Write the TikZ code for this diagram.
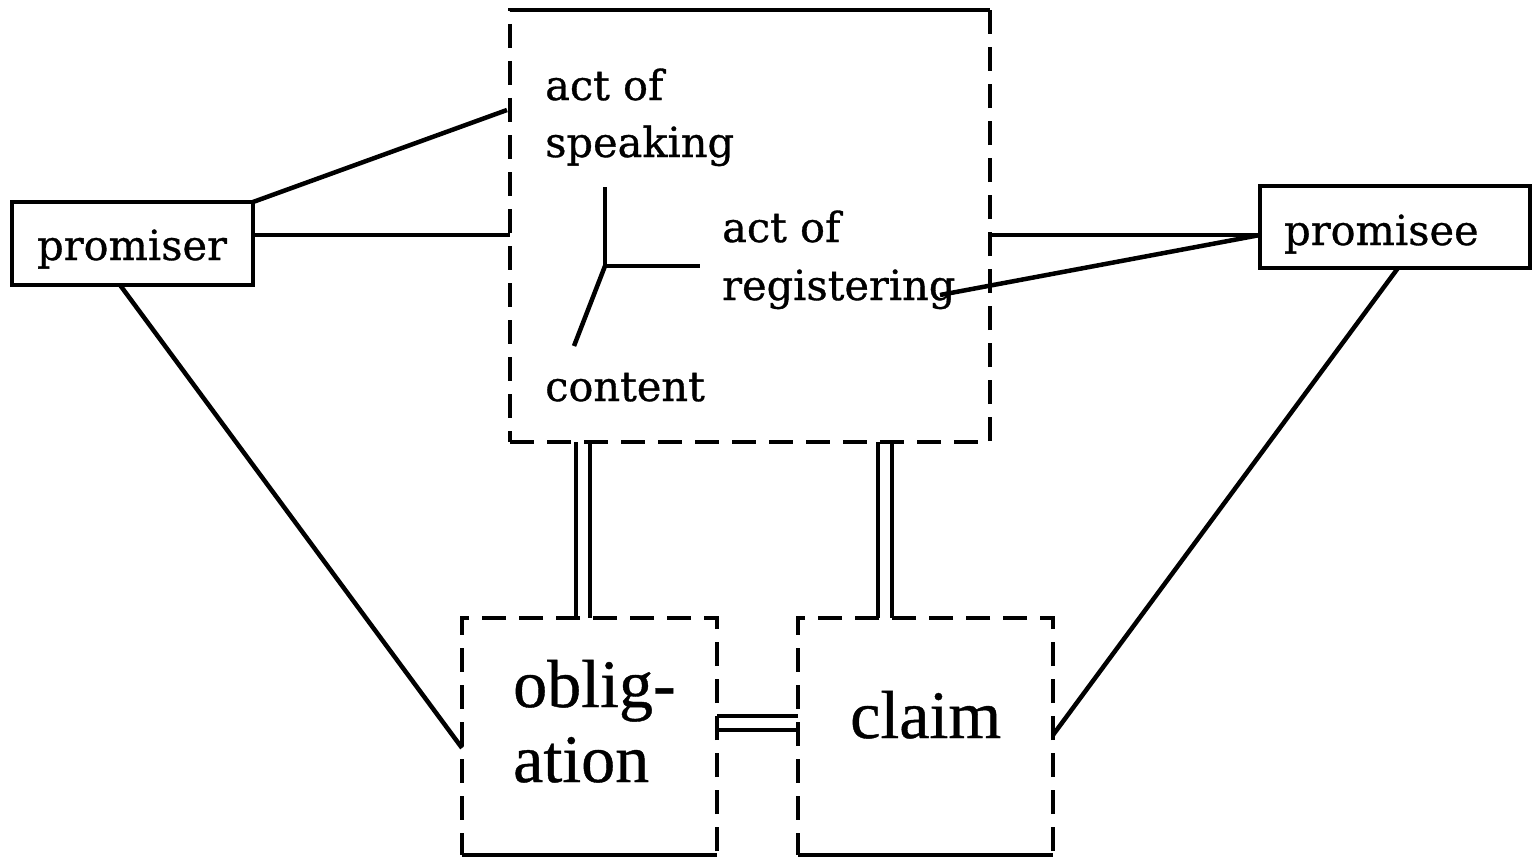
\documentclass[tikz,border=0pt]{standalone}
\usepackage{fontspec}
\setmainfont{DejaVu Serif}[FakeBold=0.8]
\newfontfamily\boxfont{Liberation Serif}[FakeBold=0.6]
\usetikzlibrary{backgrounds}
\begin{document}
\begin{tikzpicture}[x=1pt,y=-1pt,
  solidbox/.style={draw, line width=4.5pt, inner sep=0pt, outer sep=0pt},
  dashbox/.style={solidbox, dash pattern=on 24pt off 13pt},
  edge/.style={line width=4.5pt},
  lbl/.style={anchor=base west, inner sep=0pt, font=\fontsize{41.5}{48}\selectfont},
  biglbl/.style={anchor=base west, inner sep=0pt, font=\boxfont\fontsize{68}{76}\selectfont},
  link/.style={line width=4.5pt},
  twin/.style={draw, line width=4pt, double, double distance=10pt}]
\useasboundingbox (0,0) rectangle (1532,859);

% boxes
\node[dashbox, minimum width=480pt, minimum height=432pt] (act) at (750,226) {};
\draw[edge] (act.north west) -- (act.north east);
\node[solidbox, minimum width=241pt, minimum height=83pt] (promiser) at (132.5,243.5) {};
\node[solidbox, minimum width=270pt, minimum height=82pt] (promisee) at (1395,227) {};
\node[dashbox, minimum width=255pt, minimum height=237pt] (oblig) at (589.5,736.5) {};
\draw[edge] (oblig.south west) -- (oblig.south east);
\node[dashbox, minimum width=255pt, minimum height=237pt] (claim) at (925.5,736.5) {};
\draw[edge] (claim.south west) -- (claim.south east);

% labels
\node[lbl] (speak1) at (545,100) {act of};
\node[lbl] (speak2) at (545,157) {speaking};
\node[lbl] (reg1) at (722,242) {act of};
\node[lbl] (reg2) at (722,300) {registering};
\node[lbl] (cont) at (545,401) {content};
\node[lbl] (promisertext) at (37,260) {promiser};
\node[lbl] (promiseetext) at (1284,245) {promisee};
\node[biglbl] (obl1) at (513,707) {oblig-};
\node[biglbl] (obl2) at (513,782) {ation};
\node[biglbl] (claimtext) at (850,738) {claim};

% connectors
\coordinate (spk) at (507,110);
\coordinate (regend) at (940,295);
\draw[link] (promiser.north east) -- (spk);
\draw[link] (promiser.east |- 0,235) -- (act.west |- 0,235);
\draw[link] (promiser.south -| 120,0) -- (oblig.west |- 0,748);
\draw[link] (promisee.west |- 0,235) -- (act.east |- 0,235);
\draw[link] (promisee.west |- 0,235) -- (regend);
\draw[link] (promisee.south -| 1398,0) -- (claim.east |- 0,735);

% the three parts of the act
\coordinate (hub) at (605,266);
\coordinate (hubup) at (605,187);
\coordinate (hubright) at (700,266);
\coordinate (hubdown) at (574,346);
\draw[link] (hubup) -- (hub) -- (hubright);
\draw[link] (hub) -- (hubdown);

% double links
\begin{scope}[on background layer]
\draw[twin] (act.south -| 582.5,0) -- (oblig.north -| 582.5,0);
\draw[twin] (act.south -| 885,0) -- (claim.north -| 885,0);
\draw[twin] (oblig.east |- 0,722.5) -- (claim.west |- 0,722.5);
\end{scope}
\end{tikzpicture}
\end{document}
